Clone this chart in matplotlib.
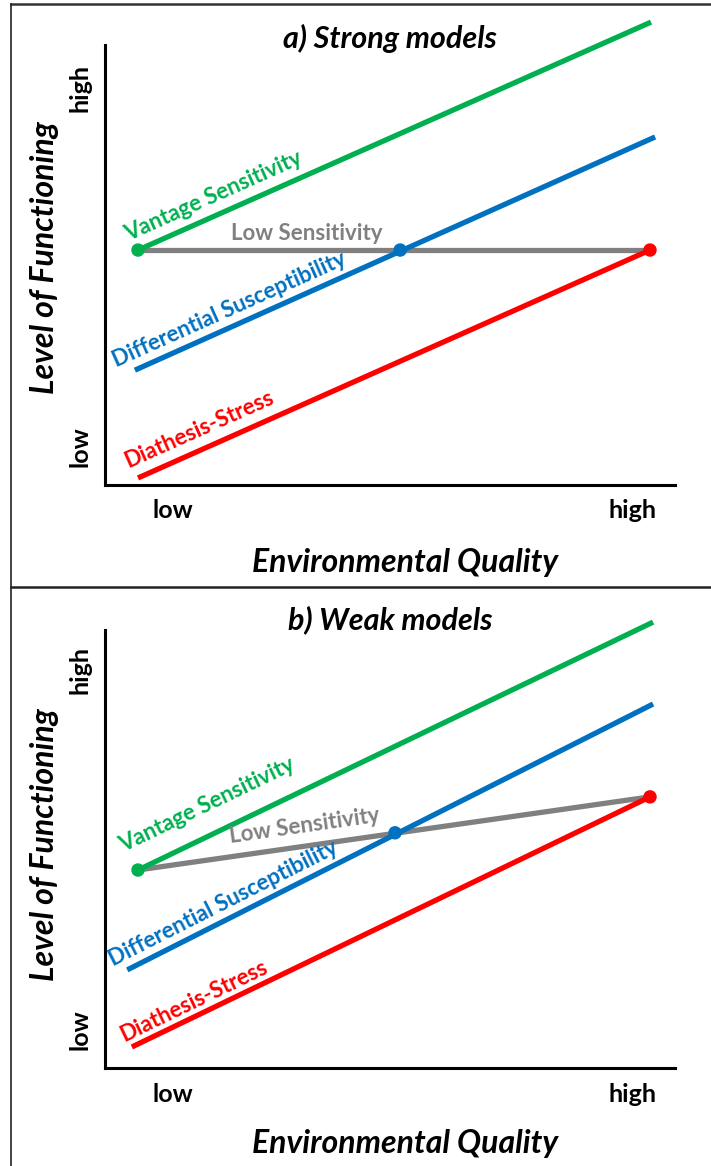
import matplotlib.pyplot as plt
from matplotlib.lines import Line2D

plt.rcParams['font.family'] = ['Lato', 'DejaVu Sans']

W, H = 711, 1166

# line end points, x: 0 = low, 1 = high environmental quality
# panel a) strong models
a_green_x = [0.0, 1.002]
a_green_y = [0.534, 1.052]
a_blue_x = [-0.006, 1.010]
a_blue_y = [0.261, 0.791]
a_red_x = [0.0, 1.0]
a_red_y = [0.016, 0.534]
a_gray_x = [0.0, 1.0]
a_gray_y = [0.534, 0.534]
a_dots_x = [0.0, 0.512, 1.0]
a_dots_y = [0.534, 0.534, 0.534]

# panel b) weak models
b_green_x = [0.0, 1.006]
b_green_y = [0.452, 1.018]
b_blue_x = [-0.021, 1.006]
b_blue_y = [0.224, 0.831]
b_red_x = [-0.012, 1.0]
b_red_y = [0.048, 0.619]
b_gray_x = [0.0, 1.0]
b_gray_y = [0.452, 0.619]
b_dots_x = [0.0, 0.502, 1.0]
b_dots_y = [0.452, 0.537, 0.619]

green = '#00B050'
blue = '#0070C0'
red = '#FF0000'
gray = '#808080'

fig = plt.figure(figsize=(W / 100, H / 100), dpi=100)


def px_axes(left, top, right, bottom):
    return fig.add_axes([left / W, 1 - bottom / H, (right - left) / W, (bottom - top) / H])


def panel(top, bottom, title, title_y, gx, gy, bx, by, rx, ry, kx, ky, dx, dy, labels):
    ax = px_axes(105, top, 675, bottom)
    ax.set_xlim((105 - 138) / 512, (675 - 138) / 512)
    ax.set_ylim(0, 1)
    for s in ['top', 'right']:
        ax.spines[s].set_visible(False)
    for s in ['left', 'bottom']:
        ax.spines[s].set_linewidth(2.2)
    ax.set_xticks([])
    ax.set_yticks([])
    lw = 3.8
    ax.plot(kx, ky, color=gray, lw=lw, solid_capstyle='butt', clip_on=False, zorder=2)
    ax.plot(gx, gy, color=green, lw=lw, solid_capstyle='butt', clip_on=False, zorder=3)
    ax.plot(bx, by, color=blue, lw=lw, solid_capstyle='butt', clip_on=False, zorder=3)
    ax.plot(rx, ry, color=red, lw=lw, solid_capstyle='butt', clip_on=False, zorder=3)
    ax.scatter(dx, dy, s=75, c=[green, blue, red], zorder=4, clip_on=False)

    for text, color, x, y, rot in labels:
        fig.text(x / W, 1 - y / H, text, color=color, fontsize=16, fontweight='bold',
                 rotation=rot, ha='center', va='center', rotation_mode='anchor')

    fig.text(390 / W, 1 - title_y / H, title, fontsize=22, fontweight='bold',
             fontstyle='italic', ha='center', va='center')
    return ax


panel(45, 485, 'a) Strong models', 38,
      a_green_x, a_green_y, a_blue_x, a_blue_y, a_red_x, a_red_y,
      a_gray_x, a_gray_y, a_dots_x, a_dots_y,
      [('Vantage Sensitivity', green, 213, 196, 24.1),
       ('Differential Susceptibility', blue, 229, 310, 24.1),
       ('Diathesis-Stress', red, 199, 429, 24.0),
       ('Low Sensitivity', gray, 307, 233, 0)])

panel(630, 1068, 'b) Weak models', 620,
      b_green_x, b_green_y, b_blue_x, b_blue_y, b_red_x, b_red_y,
      b_gray_x, b_gray_y, b_dots_x, b_dots_y,
      [('Vantage Sensitivity', green, 207, 805, 25.7),
       ('Differential Susceptibility', blue, 223, 903, 26.8),
       ('Diathesis-Stress', red, 194, 1001, 25.8),
       ('Low Sensitivity', gray, 305, 826, 8.1)])

# tick words and axis titles
for y_hi, y_lo, x_row, x_title, y_title in [(88, 447, 511, 562, 258), (670, 1030, 1094, 1143, 845)]:
    fig.text(80 / W, 1 - y_hi / H, 'high', fontsize=18, fontweight='bold', rotation=90,
             ha='center', va='center')
    fig.text(80 / W, 1 - y_lo / H, 'low', fontsize=18, fontweight='bold', rotation=90,
             ha='center', va='center')
    fig.text(173 / W, 1 - x_row / H, 'low', fontsize=18, fontweight='bold',
             ha='center', va='center')
    fig.text(633 / W, 1 - x_row / H, 'high', fontsize=18, fontweight='bold',
             ha='center', va='center')
    fig.text(405 / W, 1 - x_title / H, 'Environmental Quality', fontsize=23,
             fontweight='bold', fontstyle='italic', ha='center', va='center')
    fig.text(45 / W, 1 - y_title / H, 'Level of Functioning', fontsize=23,
             fontweight='bold', fontstyle='italic', rotation=90, ha='center', va='center')

# panel frames
fig.add_artist(Line2D([11 / W, 1], [1 - 4 / H, 1 - 4 / H], color='#333333', lw=1.8))
fig.add_artist(Line2D([11 / W, 1], [1 - 587 / H, 1 - 587 / H], color='#222222', lw=1.8))
fig.add_artist(Line2D([11 / W, 11 / W], [0, 1 - 4 / H], color='#222222', lw=1.2))

fig.savefig('out.png', dpi=100)
